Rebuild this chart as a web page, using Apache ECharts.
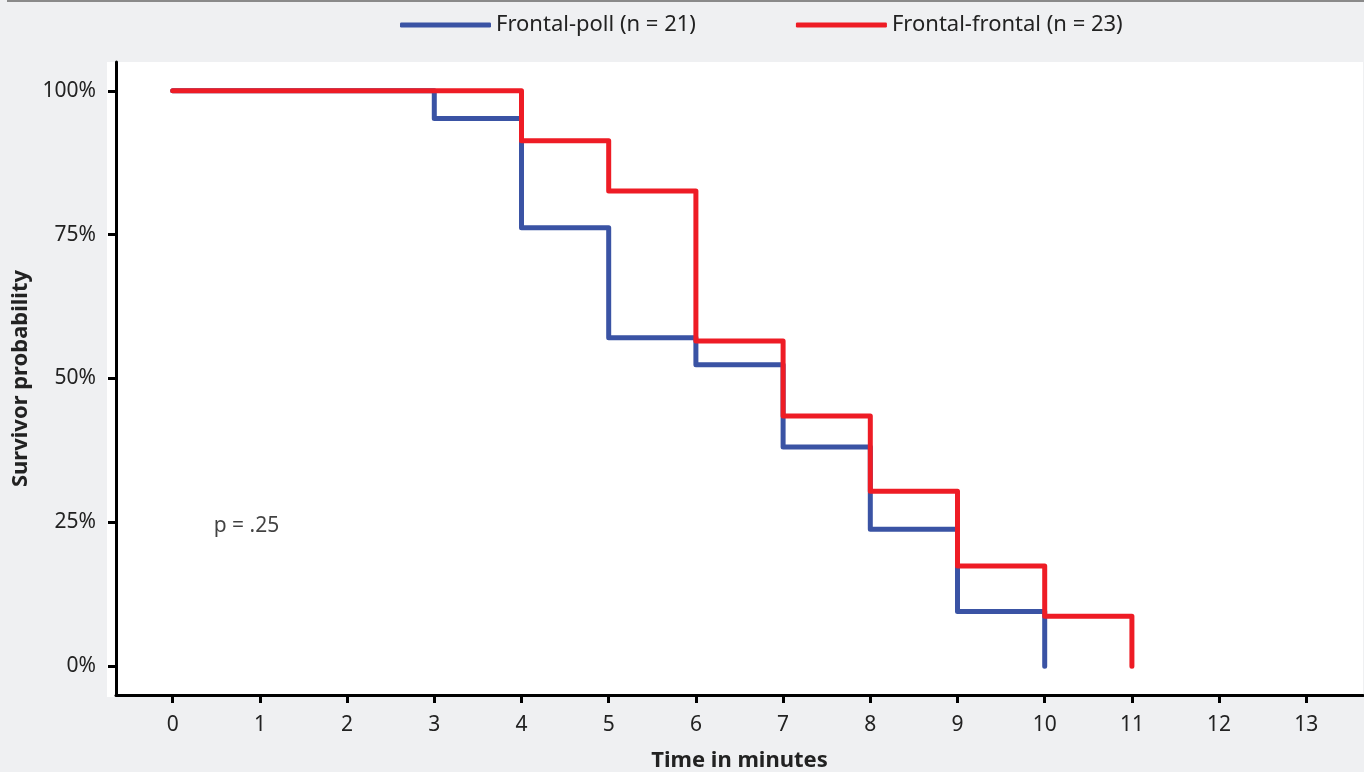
<!DOCTYPE html>
<html>
<head>
<meta charset="utf-8">
<title>Survivor probability</title>
<script src="https://cdn.jsdelivr.net/npm/echarts@6/dist/echarts.min.js"></script>
<style>
  html, body { margin: 0; padding: 0; background: #eff0f2; }
  #main { width: 1364px; height: 772px; }
</style>
</head>
<body>
<div id="main"></div>
<script>
// step points: [minute, survivor probability]
const pollName = 'Frontal-poll (n = 21)';
const pollSteps = [[0, 1], [3, 0.952], [4, 0.762], [5, 0.571], [6, 0.524], [7, 0.381], [8, 0.238], [9, 0.095], [10, 0]];

const frontalName = 'Frontal-frontal (n = 23)';
const frontalSteps = [[0, 1], [4, 0.913], [5, 0.826], [6, 0.565], [7, 0.435], [8, 0.304], [9, 0.174], [10, 0.087], [11, 0]];

const xTicks = [0, 1, 2, 3, 4, 5, 6, 7, 8, 9, 10, 11, 12, 13];
const yTicks = [0, 0.25, 0.5, 0.75, 1];

const pNote = { x: 0.47, y: 0.243, text: 'p = .25' };

const chartDom = document.getElementById('main');
const myChart = echarts.init(chartDom);

const labelFont = "'Noto Sans', sans-serif";

const option = {
  backgroundColor: '#eff0f2',
  animation: false,
  graphic: [
    { type: 'rect', z: -10, shape: { x: 107, y: 62, width: 1256, height: 635 }, style: { fill: '#ffffff' } },
    { type: 'line', z: -10, shape: { x1: 7, y1: 1, x2: 1364, y2: 1 }, style: { stroke: '#8a8a8a', lineWidth: 2 } }
  ],
  legend: {
    left: 395,
    top: 9,
    itemWidth: 91,
    itemHeight: 5,
    itemGap: 100,
    icon: 'roundRect',
    textStyle: { fontFamily: labelFont, fontSize: 22, color: '#222' },
    data: [pollName, frontalName]
  },
  grid: { left: 116, right: 1, top: 62, bottom: 77, outerBoundsMode: 'none', containLabel: false },
  xAxis: {
    type: 'value',
    min: -0.65,
    max: 13.65,
    name: 'Time in minutes',
    nameLocation: 'middle',
    nameGap: 55,
    nameTextStyle: { fontFamily: labelFont, fontSize: 22, fontWeight: 'bold', color: '#222' },
    splitLine: { show: false },
    axisLine: { onZero: false, lineStyle: { color: '#000', width: 3 } },
    axisTick: { show: true, customValues: xTicks, length: 8, lineStyle: { color: '#000', width: 3 } },
    axisLabel: { customValues: xTicks, margin: 20, fontFamily: labelFont, fontSize: 21, color: '#222' }
  },
  yAxis: {
    type: 'value',
    min: -0.05,
    max: 1.05,
    name: 'Survivor probability',
    nameLocation: 'middle',
    nameGap: 84,
    nameTextStyle: { fontFamily: labelFont, fontSize: 22, fontWeight: 'bold', color: '#222' },
    splitLine: { show: false },
    axisLine: { show: true, onZero: false, lineStyle: { color: '#000', width: 3 } },
    axisTick: { show: true, customValues: yTicks, length: 8, lineStyle: { color: '#000', width: 3 } },
    axisLabel: {
      customValues: yTicks,
      margin: 20,
      fontFamily: labelFont,
      fontSize: 21,
      color: '#222',
      formatter: function (v) { return Math.round(v * 100) + '%'; }
    }
  },
  series: [
    {
      name: pollName,
      type: 'line',
      step: 'end',
      symbol: 'none',
      color: '#3a53a4',
      lineStyle: { width: 5, cap: 'round', join: 'round' },
      data: pollSteps
    },
    {
      name: frontalName,
      type: 'line',
      step: 'end',
      symbol: 'none',
      color: '#ee1c25',
      lineStyle: { width: 5, cap: 'round', join: 'round' },
      data: frontalSteps
    },
    {
      type: 'scatter',
      symbolSize: 0,
      silent: true,
      data: [[pNote.x, pNote.y]],
      label: {
        show: true,
        position: 'right',
        distance: 0,
        formatter: pNote.text,
        fontFamily: labelFont,
        fontSize: 21,
        color: '#111'
      }
    }
  ]
};

myChart.setOption(option);
</script>
</body>
</html>
